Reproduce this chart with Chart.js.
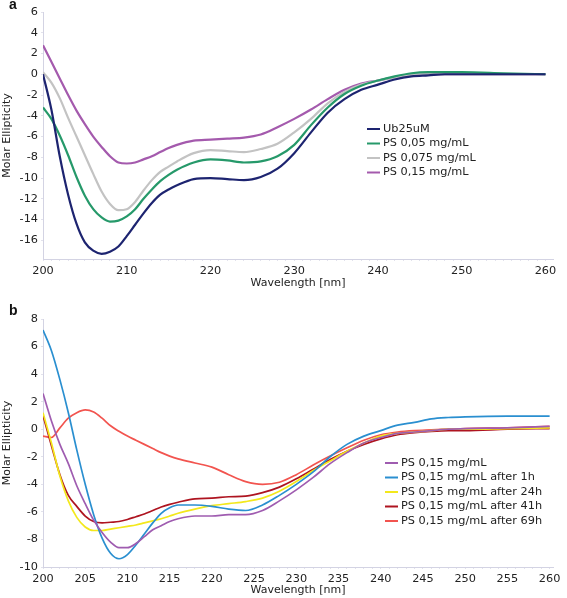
<!DOCTYPE html>
<html lang="en">
<head>
    <meta charset="UTF-8">
    <title>CD spectra</title>
    <style>
        body { margin: 0; background: #ffffff; }
        .panel { position: absolute; left: 0; }
        .tag { position: absolute; left: 9px; font: bold 14px "Liberation Sans", Arial, sans-serif; color: #111; }
    </style>
</head>
<body>
    <canvas id="chartA" class="panel" width="567" height="295" style="top:0"></canvas>
    <canvas id="chartB" class="panel" width="567" height="300" style="top:298px"></canvas>
    <div class="tag" style="top:-4px">a</div>
    <div class="tag" style="top:302px">b</div>
    <script src="https://cdn.jsdelivr.net/npm/chart.js@4.4.1/dist/chart.umd.min.js"></script>
    <script>
        // panel a: wavelength (nm) and molar ellipticity per sample
        const wavelengthsA = [200, 201, 202, 203, 204, 205, 206, 207, 208, 209, 210, 211, 212, 213, 214, 215, 216, 218, 220, 222, 224, 226, 228, 230, 232, 234, 236, 238, 240, 242, 244, 246, 248, 250, 255, 260];
        const ub25uM  = [0, -3.4, -7.9, -11.6, -14.4, -16.2, -17.0, -17.3, -17.1, -16.6, -15.6, -14.5, -13.4, -12.4, -11.6, -11.1, -10.7, -10.1, -10.0, -10.1, -10.2, -9.9, -9.1, -7.6, -5.6, -3.7, -2.4, -1.5, -1.0, -0.5, -0.2, -0.1, 0, 0, 0, 0];
        const ps005   = [-3.2, -4.3, -5.9, -7.8, -9.9, -11.7, -13.0, -13.8, -14.2, -14.1, -13.7, -13.0, -12.0, -11.1, -10.3, -9.7, -9.2, -8.5, -8.2, -8.3, -8.5, -8.4, -7.9, -6.8, -4.9, -3.2, -1.9, -1.1, -0.6, -0.2, 0.1, 0.2, 0.2, 0.2, 0.1, 0];
        const ps0075  = [0.2, -0.8, -2.3, -4.2, -6.0, -7.8, -9.6, -11.3, -12.5, -13.1, -13.0, -12.3, -11.2, -10.2, -9.4, -8.9, -8.4, -7.6, -7.3, -7.4, -7.5, -7.2, -6.7, -5.6, -4.3, -2.8, -1.7, -1.0, -0.6, -0.3, -0.1, 0, 0, 0, 0, 0];
        const ps015   = [2.8, 1.2, -0.4, -2.0, -3.5, -4.8, -6.0, -7.0, -7.9, -8.5, -8.6, -8.5, -8.2, -7.9, -7.5, -7.1, -6.8, -6.4, -6.3, -6.2, -6.1, -5.8, -5.1, -4.3, -3.4, -2.4, -1.5, -0.9, -0.6, -0.3, -0.1, 0, 0, 0, 0, 0];
        const labelsA = ['Ub25uM', 'PS 0,05 mg/mL', 'PS 0,075 mg/mL', 'PS 0,15 mg/mL'];
        const xTicksA = [200, 210, 220, 230, 240, 250, 260];
        const yTicksA = [-16, -14, -12, -10, -8, -6, -4, -2, 0, 2, 4, 6];

        // panel b: PS 0,15 mg/mL over time
        const wavelengthsB = [200, 201, 202, 203, 204, 205, 206, 207, 208, 209, 210, 211, 212, 213, 214, 215, 216, 218, 220, 222, 224, 226, 228, 230, 232, 234, 236, 238, 240, 242, 244, 246, 248, 250, 255, 260];
        const ps015h0  = [2.6, 0.6, -1.1, -2.5, -4.1, -5.4, -6.6, -7.5, -8.2, -8.6, -8.6, -8.3, -7.8, -7.3, -7.0, -6.7, -6.5, -6.3, -6.3, -6.2, -6.2, -5.9, -5.2, -4.4, -3.5, -2.5, -1.7, -1.0, -0.6, -0.3, -0.2, -0.1, 0, 0.05, 0.1, 0.2];
        const ps015h1  = [7.2, 5.7, 3.6, 1.2, -1.5, -4.0, -6.2, -7.9, -9.0, -9.4, -9.1, -8.4, -7.6, -6.8, -6.1, -5.7, -5.5, -5.5, -5.6, -5.8, -5.9, -5.5, -4.8, -4.0, -3.1, -2.0, -1.1, -0.5, -0.1, 0.3, 0.5, 0.75, 0.85, 0.9, 0.95, 0.95];
        const ps015h24 = [1.2, -1.0, -3.4, -5.2, -6.4, -7.1, -7.35, -7.35, -7.25, -7.15, -7.05, -6.95, -6.8, -6.65, -6.5, -6.3, -6.1, -5.8, -5.55, -5.4, -5.25, -5.0, -4.5, -3.8, -3.0, -2.3, -1.6, -1.0, -0.5, -0.3, -0.2, -0.1, 0, 0, 0.05, 0.1];
        const ps015h41 = [1.0, -1.2, -3.3, -4.8, -5.6, -6.3, -6.7, -6.8, -6.75, -6.7, -6.55, -6.35, -6.15, -5.9, -5.65, -5.45, -5.3, -5.05, -5.0, -4.9, -4.85, -4.6, -4.2, -3.6, -2.9, -2.2, -1.6, -1.1, -0.7, -0.4, -0.25, -0.15, -0.1, -0.1, 0, 0.05];
        const ps015h69 = [-0.5, -0.6, 0.1, 0.8, 1.2, 1.4, 1.25, 0.8, 0.25, -0.15, -0.5, -0.8, -1.1, -1.4, -1.7, -1.95, -2.15, -2.45, -2.75, -3.3, -3.8, -4.0, -3.85, -3.3, -2.6, -1.95, -1.35, -0.8, -0.4, -0.2, -0.1, -0.05, 0, 0.05, 0.1, 0.2];
        const labelsB = ['PS 0,15 mg/mL', 'PS 0,15 mg/mL after 1h', 'PS 0,15 mg/mL after 24h', 'PS 0,15 mg/mL after 41h', 'PS 0,15 mg/mL after 69h'];
        const xTicksB = [200, 205, 210, 215, 220, 225, 230, 235, 240, 245, 250, 255, 260];
        const yTicksB = [-10, -8, -6, -4, -2, 0, 2, 4, 6, 8];

        const colorsA = ['#1d2470', '#26996a', '#c3c3c3', '#a45aad'];
        const colorsB = ['#9f5cb0', '#2a8fd0', '#f3e81c', '#ae1420', '#f2544f'];

        const axisColor = '#d3d3e3';
        const textColor = '#222222';
        const fontFamily = '"DejaVu Sans", Verdana, sans-serif';

        // draws the little legend inside the plot
        const inlineLegend = {
            id: 'inlineLegend',
            afterDraw(chart, args, opts) {
                const ctx = chart.ctx;
                ctx.save();
                ctx.font = '11.3px ' + fontFamily;
                ctx.textBaseline = 'middle';
                chart.data.datasets.forEach(function (ds, i) {
                    const y = opts.y + i * opts.rowHeight;
                    ctx.strokeStyle = ds.borderColor;
                    ctx.lineWidth = 2;
                    ctx.beginPath();
                    ctx.moveTo(opts.x, y);
                    ctx.lineTo(opts.x + opts.sample, y);
                    ctx.stroke();
                    ctx.fillStyle = textColor;
                    ctx.fillText(ds.label, opts.x + opts.sample + 3, y);
                });
                ctx.restore();
            }
        };

        function makeDatasets(xs, series, labels, colors, width) {
            return series.map(function (vals, i) {
                return {
                    label: labels[i],
                    data: xs.map(function (x, j) { return { x: x, y: vals[j] }; }),
                    borderColor: colors[i],
                    borderWidth: width,
                    pointRadius: 0,
                    fill: false,
                    cubicInterpolationMode: 'monotone'
                };
            });
        }

        function plotPanel(canvasId, cfg) {
            const minorX = [];
            for (let v = cfg.xTicks[0]; v <= cfg.xTicks[cfg.xTicks.length - 1]; v++) minorX.push(v);
            return new Chart(document.getElementById(canvasId), {
                type: 'line',
                data: { datasets: cfg.datasets },
                options: {
                    responsive: false,
                    animation: false,
                    layout: { padding: { top: cfg.padTop, right: 14, left: 0, bottom: 0 } },
                    scales: {
                        x: {
                            type: 'linear',
                            min: cfg.xMin,
                            max: cfg.xMax,
                            afterBuildTicks: function (s) { s.ticks = minorX.map(function (v) { return { value: v }; }); },
                            afterFit: function (s) { s.height = cfg.xHeight; },
                            border: { color: axisColor, width: 1 },
                            grid: { drawOnChartArea: false, drawTicks: true, tickLength: 2, color: '#e2e2ec' },
                            ticks: {
                                autoSkip: false,
                                maxRotation: 0,
                                padding: 3,
                                color: textColor,
                                font: { family: fontFamily, size: 11.3 },
                                callback: function (v) { return cfg.xTicks.includes(v) ? String(v) : ''; }
                            },
                            title: {
                                display: true,
                                text: 'Wavelength [nm]',
                                color: textColor,
                                font: { family: fontFamily, size: 11 },
                                padding: { top: 0, bottom: cfg.titlePad }
                            }
                        },
                        y: {
                            min: cfg.yMin,
                            max: cfg.yMax,
                            afterBuildTicks: function (s) { s.ticks = cfg.yTicks.map(function (v) { return { value: v }; }); },
                            afterFit: function (s) { s.width = 43; },
                            border: { color: axisColor, width: 1 },
                            grid: { drawOnChartArea: false, drawTicks: true, tickLength: 2, color: '#e2e2ec' },
                            ticks: {
                                padding: 3,
                                color: textColor,
                                font: { family: fontFamily, size: 11.3 }
                            },
                            title: {
                                display: true,
                                text: 'Molar Ellipticity',
                                color: textColor,
                                font: { family: fontFamily, size: 11 },
                                padding: { top: 1, bottom: 0 }
                            }
                        }
                    },
                    plugins: {
                        legend: { display: false },
                        tooltip: { enabled: false },
                        inlineLegend: cfg.legend
                    }
                },
                plugins: [inlineLegend]
            });
        }

        window.addEventListener('load', function () {
            plotPanel('chartA', {
                datasets: makeDatasets(wavelengthsA, [ub25uM, ps005, ps0075, ps015], labelsA, colorsA, 2.2),
                xTicks: xTicksA, yTicks: yTicksA,
                xMin: 200, xMax: 260.9, yMin: -17.8, yMax: 6,
                padTop: 12, xHeight: 36, titlePad: 5,
                legend: { x: 367, y: 129, rowHeight: 14.5, sample: 13 }
            });
            plotPanel('chartB', {
                datasets: makeDatasets(wavelengthsB, [ps015h0, ps015h1, ps015h24, ps015h41, ps015h69], labelsB, colorsB, 1.7),
                xTicks: xTicksB, yTicks: yTicksB,
                xMin: 200, xMax: 260.4, yMin: -10, yMax: 8,
                padTop: 21, xHeight: 31, titlePad: 1,
                legend: { x: 385, y: 165, rowHeight: 14.5, sample: 13 }
            });
        });
    </script>
</body>
</html>
